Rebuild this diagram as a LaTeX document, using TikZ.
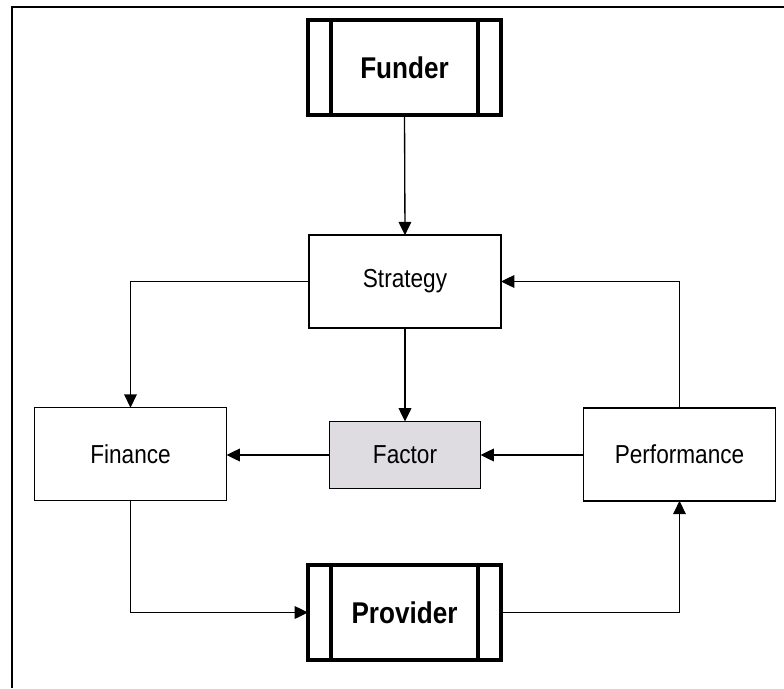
\documentclass[tikz,border=0pt]{standalone}
\usepackage{fontspec}
\setmainfont{Liberation Sans}
\usetikzlibrary{arrows.meta,calc}
\definecolor{factorfill}{RGB}{222,220,224}
\newcommand{\condtxt}[1]{\scalebox{0.87}[1]{#1}}
\begin{document}
\begin{tikzpicture}[x=0.75pt,y=-0.75pt,
  box/.style={draw, line width=1.2pt, minimum width=144pt, minimum height=69.5pt,
    inner sep=0pt, outer sep=0pt, font=\fontsize{19.5}{22}\selectfont},
  factorbox/.style={box, fill=factorfill, minimum width=113.25pt, minimum height=50.25pt},
  procbox/.style={draw, line width=2.6pt, minimum width=144.75pt, minimum height=71.25pt,
    inner sep=0pt, outer sep=0pt, font=\fontsize{22.5}{25}\selectfont\bfseries},
  bar/.style={line width=2.3pt},
  conn/.style={line width=1pt, -{Triangle[length=10pt,width=9.5pt]}},
  frame/.style={line width=1.5pt}]
\useasboundingbox (0,0) rectangle (784,688);
\draw[frame] (784,7.5) -- (11.5,7.5) -- (11.5,688);

\node[procbox] (fund) at (404.5,67.5) {\condtxt{Funder}};
\node[procbox] (prov) at (404.5,612.5) {\condtxt{Provider}};
\foreach \n in {fund,prov}{
  \draw[bar] ($(\n.north west)+(23,0)$) -- ($(\n.south west)+(23,0)$);
  \draw[bar] ($(\n.north east)+(-23,0)$) -- ($(\n.south east)+(-23,0)$);
}

\node[box] (strat) at (405,281.5) {\condtxt{Strategy}};
\node[box] (fin) at (130.5,454) {\condtxt{Finance}};
\node[factorbox] (fact) at (405,455) {\condtxt{Factor}};
\node[box] (perf) at (679.5,454.5) {\condtxt{Performance}};

\draw[conn] (fund.south) -- (strat.north);
\draw[conn] (strat.south) -- (fact.north);
\draw[conn] (strat.west) -| (fin.north);
\draw[conn] (fact.west) -- (fact.west -| fin.east);
\draw[conn] (perf.west |- fact.west) -- (fact.east);
\draw[conn] (perf.north) |- (strat.east);
\draw[conn] (fin.south) |- (prov.west);
\draw[conn] (prov.east) -| (perf.south);
\end{tikzpicture}
\end{document}
